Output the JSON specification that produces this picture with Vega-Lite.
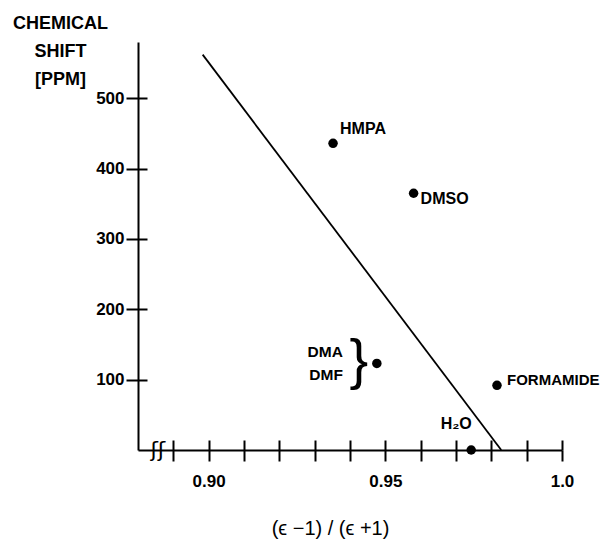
{
  "$schema": "https://vega.github.io/schema/vega-lite/v6.json",
  "width": 424,
  "height": 408,
  "autosize": {"type": "none"},
  "padding": {"left": 138, "top": 42, "right": 41, "bottom": 93},
  "background": "white",
  "config": {
    "view": {"stroke": null},
    "font": "Liberation Sans",
    "axis": {"grid": false, "domainColor": "black", "tickColor": "black", "labelColor": "black", "titleColor": "black", "domainWidth": 2, "tickWidth": 2}
  },
  "datasets": {
    "solvents": [
      {"solvent": "HMPA", "eps_ratio": 0.9352, "shift": 436},
      {"solvent": "DMSO", "eps_ratio": 0.958, "shift": 365},
      {"solvent": "DMA\nDMF", "eps_ratio": 0.9476, "shift": 123},
      {"solvent": "FORMAMIDE", "eps_ratio": 0.9816, "shift": 92},
      {"solvent": "H₂O", "eps_ratio": 0.9743, "shift": 0}
    ],
    "fit": [
      {"eps_ratio": 0.8983, "shift": 562},
      {"eps_ratio": 0.9828, "shift": 0}
    ]
  },
  "layer": [
    {
      "data": {"name": "fit"},
      "mark": {"type": "line", "color": "black", "strokeWidth": 1.8},
      "encoding": {
        "x": {"field": "eps_ratio", "type": "quantitative",
          "scale": {"domain": [0.88, 1.0], "nice": false, "zero": false},
          "axis": {"orient": "bottom", "values": [0.89, 0.9, 0.91, 0.92, 0.93, 0.94, 0.95, 0.96, 0.97, 0.98, 0.99, 1.0], "labels": false, "domain": false, "offset": -10, "tickSize": 10, "title": null}},
        "y": {"field": "shift", "type": "quantitative",
          "scale": {"domain": [0, 580], "nice": false, "zero": true},
          "axis": {"orient": "left", "values": [100, 200, 300, 400, 500], "labels": false, "domain": false, "offset": -9, "tickSize": 9, "title": null}}
      }
    },
    {
      "data": {"name": "solvents"},
      "mark": {"type": "circle", "color": "black", "size": 90, "opacity": 1},
      "encoding": {
        "x": {"field": "eps_ratio", "type": "quantitative",
          "scale": {"domain": [0.88, 1.0], "nice": false, "zero": false},
          "axis": {"orient": "bottom", "values": [0.89, 0.9, 0.91, 0.92, 0.93, 0.94, 0.95, 0.96, 0.97, 0.98, 0.99, 1.0],
            "labelExpr": "abs(datum.value-0.9)<0.001 ? '0.90' : abs(datum.value-0.95)<0.001 ? '0.95' : abs(datum.value-1)<0.001 ? '1.0' : ''",
            "labelFlush": false, "labelOverlap": false, "labelFontSize": 17, "labelFontWeight": "bold", "labelPadding": 12,
            "tickSize": 11,
            "title": "(ϵ −1) / (ϵ +1)", "titleFontSize": 20, "titleFontWeight": "normal", "titleX": 192, "titleY": 84, "titleAlign": "center", "titleBaseline": "alphabetic"}},
        "y": {"field": "shift", "type": "quantitative",
          "scale": {"domain": [0, 580], "nice": false, "zero": true},
          "axis": {"orient": "left", "values": [100, 200, 300, 400, 500], "labelFlush": false, "labelFontSize": 17, "labelFontWeight": "bold", "labelPadding": 2, "tickSize": 12,
            "title": ["CHEMICAL", "SHIFT", "[PPM]"], "titleAngle": 0, "titleAlign": "center", "titleBaseline": "alphabetic", "titleX": -78, "titleY": -14, "titleFontSize": 18, "titleFontWeight": "bold", "titleLineHeight": 28}}
      }
    },
    {
      "data": {"name": "solvents"},
      "transform": [{"filter": {"field": "solvent", "equal": "HMPA"}}],
      "mark": {"type": "text", "align": "left", "baseline": "middle", "dx": 7, "dy": -14, "fontSize": 16, "fontWeight": "bold", "color": "black"},
      "encoding": {
        "x": {"field": "eps_ratio", "type": "quantitative", "axis": null},
        "y": {"field": "shift", "type": "quantitative", "axis": null},
        "text": {"field": "solvent"}
      }
    },
    {
      "data": {"name": "solvents"},
      "transform": [{"filter": {"field": "solvent", "equal": "DMSO"}}],
      "mark": {"type": "text", "align": "left", "baseline": "middle", "dx": 7, "dy": 6, "fontSize": 16, "fontWeight": "bold", "color": "black"},
      "encoding": {
        "x": {"field": "eps_ratio", "type": "quantitative", "axis": null},
        "y": {"field": "shift", "type": "quantitative", "axis": null},
        "text": {"field": "solvent"}
      }
    },
    {
      "data": {"name": "solvents"},
      "transform": [{"filter": {"field": "solvent", "equal": "FORMAMIDE"}}],
      "mark": {"type": "text", "align": "left", "baseline": "middle", "dx": 10, "dy": -5, "fontSize": 15, "fontWeight": "bold", "color": "black"},
      "encoding": {
        "x": {"field": "eps_ratio", "type": "quantitative", "axis": null},
        "y": {"field": "shift", "type": "quantitative", "axis": null},
        "text": {"field": "solvent"}
      }
    },
    {
      "data": {"name": "solvents"},
      "transform": [{"filter": {"field": "solvent", "equal": "H₂O"}}],
      "mark": {"type": "text", "align": "center", "baseline": "middle", "dx": -15, "dy": -26, "fontSize": 16, "fontWeight": "bold", "color": "black"},
      "encoding": {
        "x": {"field": "eps_ratio", "type": "quantitative", "axis": null},
        "y": {"field": "shift", "type": "quantitative", "axis": null},
        "text": {"field": "solvent"}
      }
    },
    {
      "data": {"name": "solvents"},
      "transform": [{"filter": {"field": "solvent", "equal": "DMA\nDMF"}}],
      "mark": {"type": "text", "align": "right", "baseline": "middle", "dx": -34, "dy": -11, "fontSize": 15.5, "fontWeight": "bold", "color": "black", "lineBreak": "\n", "lineHeight": 23},
      "encoding": {
        "x": {"field": "eps_ratio", "type": "quantitative", "axis": null},
        "y": {"field": "shift", "type": "quantitative", "axis": null},
        "text": {"field": "solvent"}
      }
    },
    {
      "data": {"name": "solvents"},
      "transform": [{"filter": {"field": "solvent", "equal": "DMA\nDMF"}}],
      "mark": {"type": "text", "text": "}", "align": "center", "baseline": "middle", "dx": -18, "dy": -2, "fontSize": 56, "font": "Liberation Sans", "color": "black"},
      "encoding": {
        "x": {"field": "eps_ratio", "type": "quantitative", "axis": null},
        "y": {"field": "shift", "type": "quantitative", "axis": null}
      }
    },
    {
      "data": {"values": [{"symbol": "ʃʃ"}]},
      "mark": {"type": "text", "align": "center", "baseline": "middle", "fontSize": 22, "font": "DejaVu Sans", "color": "black"},
      "encoding": {
        "x": {"datum": 0.8856, "type": "quantitative", "axis": null},
        "y": {"datum": 0, "type": "quantitative", "axis": null},
        "text": {"field": "symbol"}
      }
    }
  ],
  "resolve": {"axis": {"x": "independent", "y": "independent"}}
}
